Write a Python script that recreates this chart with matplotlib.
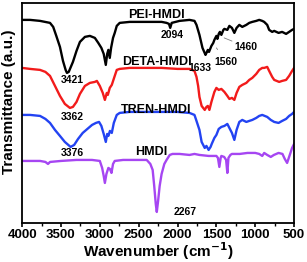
"""FTIR spectra of PEI-, DETA-, TREN-HMDI and HMDI, stacked with offsets."""
import matplotlib
matplotlib.use("Agg")
import matplotlib.pyplot as plt

plt.rcParams["font.family"] = ["Liberation Sans", "DejaVu Sans"]
plt.rcParams["font.weight"] = "bold"

# wavenumber (cm-1) / transmittance (a.u., offset)
pei_wn = [4000, 3897, 3769, 3641, 3600, 3560, 3513, 3474, 3440, 3423, 3400, 3346,
          3300, 3256, 3192, 3128, 3064, 3020, 2980, 2950, 2923, 2905, 2890, 2872,
          2855, 2830, 2808, 2782, 2744, 2615, 2397, 2205, 2141, 2110, 2094, 2075,
          1974, 1846, 1782, 1756, 1718, 1679, 1640, 1628, 1610, 1595, 1564, 1540,
          1526, 1500, 1487, 1470, 1455, 1436, 1410, 1397, 1359, 1333, 1300, 1269,
          1240, 1205, 1167, 1115, 1077, 1038, 987, 949, 910, 885, 846, 821, 782,
          756, 700, 654, 603, 564, 526, 500]
pei_t = [206, 206, 205, 203, 199, 190, 179, 165, 156, 153, 154, 164,
         175, 184, 189, 190, 188, 183, 178, 172, 161, 172, 176, 168,
         178, 188, 193, 200, 203, 204, 204, 204, 203, 202, 198, 203,
         205, 206, 205, 201, 191, 178, 171, 173, 176, 174, 180, 183,
         186, 190, 187, 192, 194, 191, 196, 197, 196, 200, 198, 193,
         198, 201, 199, 201, 203, 204, 205, 206, 205, 204, 201, 196, 194,
         195, 193, 194, 192, 194, 196, 197]

deta_wn = [4000, 3897, 3769, 3700, 3641, 3577, 3513, 3450, 3385, 3346, 3300, 3256,
           3192, 3128, 3064, 3038, 3000, 2962, 2935, 2910, 2897, 2872, 2846, 2808,
           2782, 2744, 2615, 2397, 2205, 2000, 1846, 1782, 1756, 1735, 1718, 1690,
           1650, 1628, 1610, 1590, 1564, 1526, 1500, 1470, 1436, 1397, 1359, 1333,
           1300, 1269, 1240, 1205, 1167, 1115, 1077, 1038, 987, 949, 910, 885, 846,
           821, 782, 756, 692, 654, 603, 564, 526, 500]
deta_t = [158, 157, 156, 154, 150, 140, 130, 122, 118, 119, 124, 132,
          140, 143, 144, 145, 140, 133, 126, 133, 131, 138, 141, 150,
          156, 157, 158, 158, 158, 157, 157, 155, 149, 140, 129, 120,
          116, 119, 120, 116, 124, 134, 138, 136, 137, 134, 130, 127,
          128, 126, 133, 139, 141, 143, 146, 148, 152, 156, 158, 158, 159,
          155, 149, 146, 144, 145, 146, 150, 155, 158]

tren_wn = [4000, 3897, 3769, 3700, 3641, 3577, 3513, 3450, 3376, 3330, 3280, 3220,
           3160, 3100, 3050, 3010, 2980, 2950, 2923, 2905, 2890, 2870, 2846, 2820,
           2782, 2744, 2615, 2397, 2205, 2000, 1846, 1782, 1756, 1718, 1690, 1650,
           1628, 1600, 1575, 1560, 1526, 1500, 1470, 1436, 1397, 1359, 1333, 1300,
           1269, 1240, 1205, 1167, 1115, 1077, 1038, 987, 949, 910, 846, 800, 756,
           700, 654, 603, 564, 526, 500]
tren_t = [111, 111, 110, 107, 103, 96, 90, 84, 79, 81, 87, 93,
          97, 101, 103, 104, 100, 92, 84, 92, 90, 95, 93, 103,
          111, 113, 114, 114, 114, 114, 113, 111, 105, 96, 84, 78,
          80, 76, 79, 82, 88, 91, 97, 99, 100, 102, 98, 93,
          86, 96, 104, 106, 104, 105, 106, 108, 110, 111, 109, 106, 104,
          103, 105, 107, 110, 112, 114]

hmdi_wn = [4000, 3897, 3769, 3700, 3667, 3640, 3500, 3300, 3100, 3000, 2970, 2950,
           2935, 2915, 2890, 2870, 2850, 2830, 2808, 2700, 2500, 2397, 2350, 2320,
           2300, 2280, 2267, 2250, 2230, 2205, 2170, 2141, 2100, 2064, 1974, 1846,
           1782, 1718, 1600, 1500, 1480, 1462, 1445, 1436, 1400, 1375, 1359, 1345,
           1320, 1300, 1200, 1100, 1000, 949, 910, 885, 846, 800, 760, 700, 650,
           620, 590, 560, 526, 500]
hmdi_t = [65, 65, 65, 64, 62, 64, 65, 66, 66, 65, 58, 50,
          43, 52, 58, 57, 53, 62, 65, 66, 66, 66, 62, 56,
          40, 22, 14, 25, 40, 52, 62, 66, 71, 72, 72, 71,
          72, 71, 70, 70, 68, 59, 68, 70, 69, 66, 53, 68,
          71, 72, 72, 73, 73, 72, 70, 73, 71, 69, 71, 73, 72,
          67, 63, 70, 78, 82]

names = ["PEI-HMDI", "DETA-HMDI", "TREN-HMDI", "HMDI"]
colors = ["black", "#f21b1b", "#2343f2", "#a646f2"]
# label anchor (wavenumber, transmittance) for each spectrum name
name_pos = [(2270, 211), (2270, 164), (2270, 116), (2333, 74)]

# peak labels: text, x, y
peak_text = ["3421", "3362", "3376", "2094", "1633", "2267"]
peak_x = [3359, 3359, 3359, 2064, 1718, 2050]
peak_y = [146, 109, 73, 191, 158, 14]

fig, ax = plt.subplots(figsize=(3.07, 2.62), dpi=100)
fig.subplots_adjust(left=0.072, right=0.958, top=0.989, bottom=0.149)

for wn, t, c in zip([pei_wn, deta_wn, tren_wn, hmdi_wn],
                    [pei_t, deta_t, tren_t, hmdi_t], colors):
    ax.plot(wn, t, color=c, lw=1.7, solid_joinstyle="round")

for n, (x, y) in zip(names, name_pos):
    ax.text(x, y, n, ha="center", va="center", fontsize=9, fontweight="bold")

for s, x, y in zip(peak_text, peak_x, peak_y):
    ha = "left" if s == "2267" else "center"
    ax.text(x, y, s, ha=ha, va="center", fontsize=7.5, fontweight="bold")

# leader lines for the two shoulders
ax.annotate("1560", xy=(1500, 178), xytext=(1372, 164), ha="center", va="center",
            fontsize=7.5, fontweight="bold",
            arrowprops=dict(arrowstyle="-", color="gray", lw=0.6, shrinkB=0, shrinkA=4))
ax.annotate("1460", xy=(1400, 188), xytext=(1115, 179), ha="center", va="center",
            fontsize=7.5, fontweight="bold",
            arrowprops=dict(arrowstyle="-", color="gray", lw=0.6, shrinkB=0, shrinkA=9))

ax.set_xlim(4000, 500)
ax.set_ylim(3, 223)
ax.set_xticks(range(4000, 499, -500))
ax.set_xticks(range(3750, 500, -500), minor=True)
ax.set_yticks([])
ax.tick_params(axis="x", which="major", direction="out", length=3, width=1.2,
               labelsize=9.5, pad=1)
ax.tick_params(axis="x", which="minor", direction="out", length=2, width=1.0)
for lab in ax.get_xticklabels():
    lab.set_fontweight("bold")
for sp in ax.spines.values():
    sp.set_linewidth(1.3)

ax.set_xlabel("Wavenumber (cm$^{\\mathbf{-1}}$)", fontsize=11, fontweight="bold",
              labelpad=0)
ax.set_ylabel("Transmittance (a.u.)", fontsize=11, fontweight="bold")
ax.yaxis.set_label_coords(-0.022, 0.55)

fig.savefig("out.png", dpi=100)
